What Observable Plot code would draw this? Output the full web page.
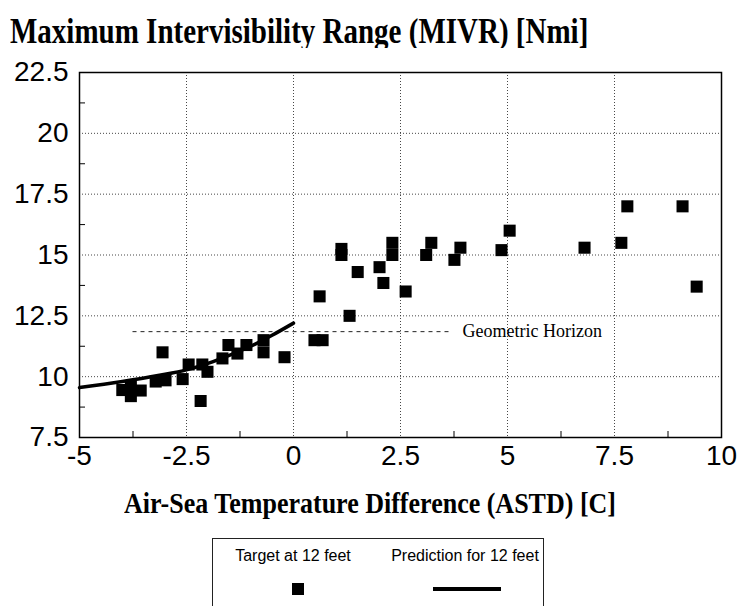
<!DOCTYPE html>
<html>
<head>
<meta charset="utf-8">
<script src="https://cdn.jsdelivr.net/npm/d3@7"></script>
<script src="https://cdn.jsdelivr.net/npm/@observablehq/plot@0.6"></script>
<style>
  html, body { margin: 0; padding: 0; background: #fff; }
  #wrap { position: relative; width: 740px; height: 606px; overflow: hidden; background: #fff; }
  #title { position: absolute; left: 10px; top: 19px; font: bold 29px "Liberation Serif", "Times New Roman", serif; line-height: 29px; white-space: nowrap; color: #000; transform: scaleY(1.22); transform-origin: 0 24px; }
  #chart { position: absolute; left: 0; top: 48px; }
  #xtitle { position: absolute; left: 0; width: 740px; top: 492px; text-align: center; font: bold 26px "Liberation Serif", "Times New Roman", serif; line-height: 26px; white-space: nowrap; color: #000; transform: scaleY(1.15); transform-origin: 0 22px; }
  #legend { position: absolute; left: 212px; top: 538px; width: 332px; height: 100px; border: 1px solid #222; box-sizing: border-box; font: 16px "Liberation Sans", Arial, sans-serif; color: #000; }
  .lg-text { position: absolute; top: 8px; white-space: nowrap; transform: translateX(-50%); }
  .lg-square { position: absolute; width: 12px; height: 12px; background: #000; }
  .lg-line { position: absolute; height: 4px; background: #000; }
</style>
</head>
<body>
<div id="wrap">
  <div id="title">Maximum Intervisibility Range (MIVR) [Nmi]</div>
  <div id="chart"></div>
  <div id="xtitle">Air-Sea Temperature Difference (ASTD) [C]</div>
  <div id="legend">
    <div class="lg-text" style="left:80px">Target at 12 feet</div>
    <div class="lg-text" style="left:252px">Prediction for 12 feet</div>
    <div class="lg-square" style="left:79px; top:44px"></div>
    <div class="lg-line" style="left:220px; width:68px; top:48px"></div>
  </div>
</div>
<script>
// Observed targets at 12 feet
const astd = [-4.0, -3.8, -3.8, -3.57, -3.22, -3.06, -2.99, -2.59, -2.45, -2.13, -2.17, -2.01, -1.66, -1.52, -1.31, -1.1, -0.7, -0.7, -0.21,
  0.49, 0.68, 0.61, 1.12, 1.12, 1.31, 1.5, 2.01, 2.1, 2.31, 2.31, 2.62, 3.1, 3.22, 3.76, 3.9, 4.86, 5.05, 6.8, 7.66, 7.8, 9.09, 9.42];
const mivr = [9.45, 9.62, 9.2, 9.43, 9.8, 11.0, 9.85, 9.9, 10.5, 10.5, 9.0, 10.2, 10.75, 11.3, 10.95, 11.3, 11.5, 11.0, 10.8,
  11.5, 11.5, 13.3, 15.25, 15.0, 12.5, 14.3, 14.5, 13.85, 15.5, 15.0, 13.5, 15.0, 15.5, 14.8, 15.3, 15.2, 16.0, 15.3, 15.5, 17.0, 17.0, 13.7];

// Prediction curve for 12 feet
const predAstd = [-5, -4, -3, -2.5, -2, -1.5, -1, -0.5, 0];
const predMivr = [9.55, 9.8, 10.1, 10.28, 10.55, 10.88, 11.25, 11.7, 12.2];

// Geometric horizon
const horizonValue = 11.85;
const horizonFrom = -3.75;
const horizonTo = 3.7;
const horizonLabel = "Geometric Horizon";
const horizonLabelAt = 3.95;

// Axes
const xTicks = [-5, -2.5, 0, 2.5, 5, 7.5, 10];
const xTickLabels = ["-5", "-2.5", "0", "2.5", "5", "7.5", "10"];
const yTicks = [7.5, 10, 12.5, 15, 17.5, 20, 22.5];
const yTickLabels = ["7.5", "10", "12.5", "15", "17.5", "20", "22.5"];
const xGrid = [-2.5, 0, 2.5, 5, 7.5];
const yGrid = [10, 12.5, 15, 17.5, 20];
const xMinor = [-3.75, -1.25, 1.25, 3.75, 6.25, 8.75];
const yMinor = [8.75, 11.25, 13.75, 16.25, 18.75, 21.25];

const points = astd.map((x, i) => ({x, y: mivr[i]}));
const pred = predAstd.map((x, i) => ({x, y: predMivr[i]}));
const horizon = [{y: horizonValue, x1: horizonFrom, x2: horizonTo}];
const horizonText = [{x: horizonLabelAt, y: horizonValue, label: horizonLabel}];

const chart = Plot.plot({
  width: 740,
  height: 432,
  marginTop: 24,
  marginRight: 19,
  marginBottom: 43,
  marginLeft: 79,
  style: {fontFamily: "'Liberation Sans', Arial, sans-serif", fontSize: "28px", background: "white", color: "black"},
  x: {domain: [-5, 10]},
  y: {domain: [7.5, 22.5]},
  marks: [
    Plot.gridX(xGrid, {stroke: "#333", strokeOpacity: 0.9, strokeDasharray: "1,2"}),
    Plot.gridY(yGrid, {stroke: "#333", strokeOpacity: 0.9, strokeDasharray: "1,2"}),
    Plot.axisX(xTicks, {tickSize: 0, tickPadding: 8, tickFormat: (d) => xTickLabels[xTicks.indexOf(d)], fontSize: 28, label: null}),
    Plot.axisY(yTicks, {tickSize: 0, tickPadding: 11, tickFormat: (d) => yTickLabels[yTicks.indexOf(d)], fontSize: 28, label: null}),
    Plot.axisX(xMinor, {tickSize: -6, tickFormat: () => "", label: null, stroke: "black"}),
    Plot.axisY(yMinor, {tickSize: -6, tickFormat: () => "", label: null, stroke: "black"}),
    Plot.ruleY(horizon, {y: "y", x1: "x1", x2: "x2", stroke: "#222", strokeDasharray: "4,4", strokeWidth: 1}),
    Plot.text(horizonText, {x: "x", y: "y", text: "label", textAnchor: "start", fontSize: 18, fontFamily: "'Liberation Serif', 'Times New Roman', serif", fill: "black"}),
    Plot.line(pred, {x: "x", y: "y", curve: "natural", stroke: "black", strokeWidth: 3.5}),
    Plot.dot(points, {x: "x", y: "y", symbol: "square", r: 6.8, fill: "black", stroke: "none"}),
    Plot.frame({stroke: "black", strokeWidth: 1.5})
  ]
});
document.getElementById("chart").appendChild(chart);
</script>
</body>
</html>
